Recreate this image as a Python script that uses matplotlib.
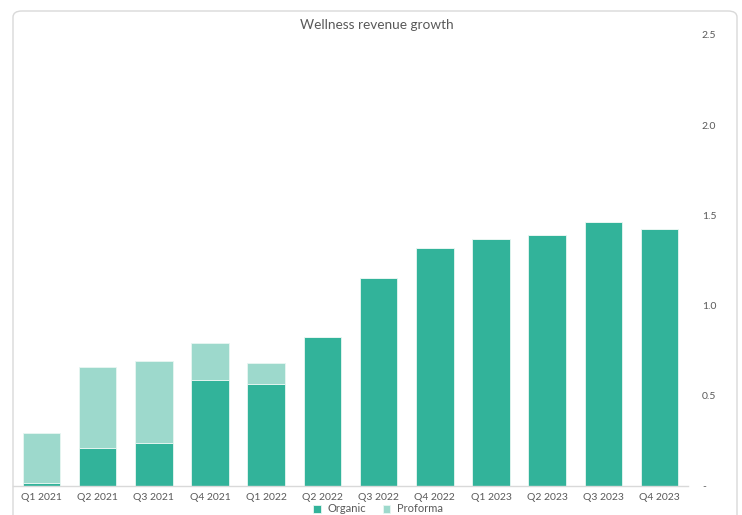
import matplotlib
matplotlib.use("Agg")
import matplotlib.pyplot as plt
from matplotlib.patches import FancyBboxPatch
from matplotlib.ticker import FixedLocator, FuncFormatter
import numpy as np

quarters = ["Q1 2021", "Q2 2021", "Q3 2021", "Q4 2021", "Q1 2022", "Q2 2022",
            "Q3 2022", "Q4 2022", "Q1 2023", "Q2 2023", "Q3 2023", "Q4 2023"]
organic = [0.015, 0.212, 0.238, 0.586, 0.565, 0.826,
           1.153, 1.318, 1.371, 1.394, 1.465, 1.425]
proforma = [0.277, 0.446, 0.453, 0.207, 0.117, 0.0,
            0.0, 0.0, 0.0, 0.0, 0.0, 0.0]
y_ticks = [0.0, 0.5, 1.0, 1.5, 2.0, 2.5]

organic_color = "#32B39A"
proforma_color = "#9DD9CC"
text_color = "#595959"

plt.rcParams["font.family"] = ["Lato", "DejaVu Sans"]

W, H = 742, 515
fig = plt.figure(figsize=(W / 100, H / 100), dpi=100)

# rounded chart frame
frame = FancyBboxPatch((13 / W, -0.2), (737 - 13) / W, (H - 11) / H + 0.2,
                       boxstyle="round,pad=0,rounding_size=0.012",
                       transform=fig.transFigure, facecolor="none",
                       edgecolor="#D9D9D9", linewidth=1.0, zorder=-1)
fig.patches.append(frame)

ax_left, ax_right = 13 / W, 688 / W
ax_bottom, ax_top = (H - 486) / H, (H - 35) / H
ax = fig.add_axes([ax_left, ax_bottom, ax_right - ax_left, ax_top - ax_bottom])
ax.set_facecolor("none")

x = np.arange(len(quarters))
ax.bar(x, organic, width=0.667, color=organic_color, edgecolor="#E8F6F2",
       linewidth=0.6, label="Organic", zorder=2)
ax.bar(x, proforma, width=0.667, bottom=organic, color=proforma_color,
       edgecolor="#E8F6F2", linewidth=0.6, label="Proforma", zorder=2)

ax.set_xlim(-0.505, len(quarters) - 0.495)
ax.set_ylim(0, 2.5)

ax.yaxis.tick_right()
ax.yaxis.set_major_locator(FixedLocator(y_ticks))
ax.yaxis.set_major_formatter(FuncFormatter(lambda v, p: "-" if v == 0 else f"{v:.1f}"))
ax.tick_params(axis="y", length=0, pad=10, labelsize=7.5, labelcolor=text_color)
ax.set_xticks(x)
ax.set_xticklabels(quarters)
ax.tick_params(axis="x", length=0, pad=5, labelsize=7.5, labelcolor=text_color)

for side in ["top", "left", "right"]:
    ax.spines[side].set_visible(False)
ax.spines["bottom"].set_color("#D9D9D9")
ax.spines["bottom"].set_linewidth(1.0)

fig.text(377 / W, 1 - 25 / H, "Wellness revenue growth", ha="center", va="center",
         fontsize=9.8, color=text_color)

handles, labels = ax.get_legend_handles_labels()
fig.legend(handles, labels, loc="center", bbox_to_anchor=(378 / W, 1 - 509 / H),
           ncol=2, frameon=False, fontsize=8, labelcolor=text_color,
           handlelength=0.7, handleheight=0.7, handletextpad=0.6, columnspacing=1.5,
           borderaxespad=0, borderpad=0)

fig.savefig("out.png", dpi=100, facecolor="white")
